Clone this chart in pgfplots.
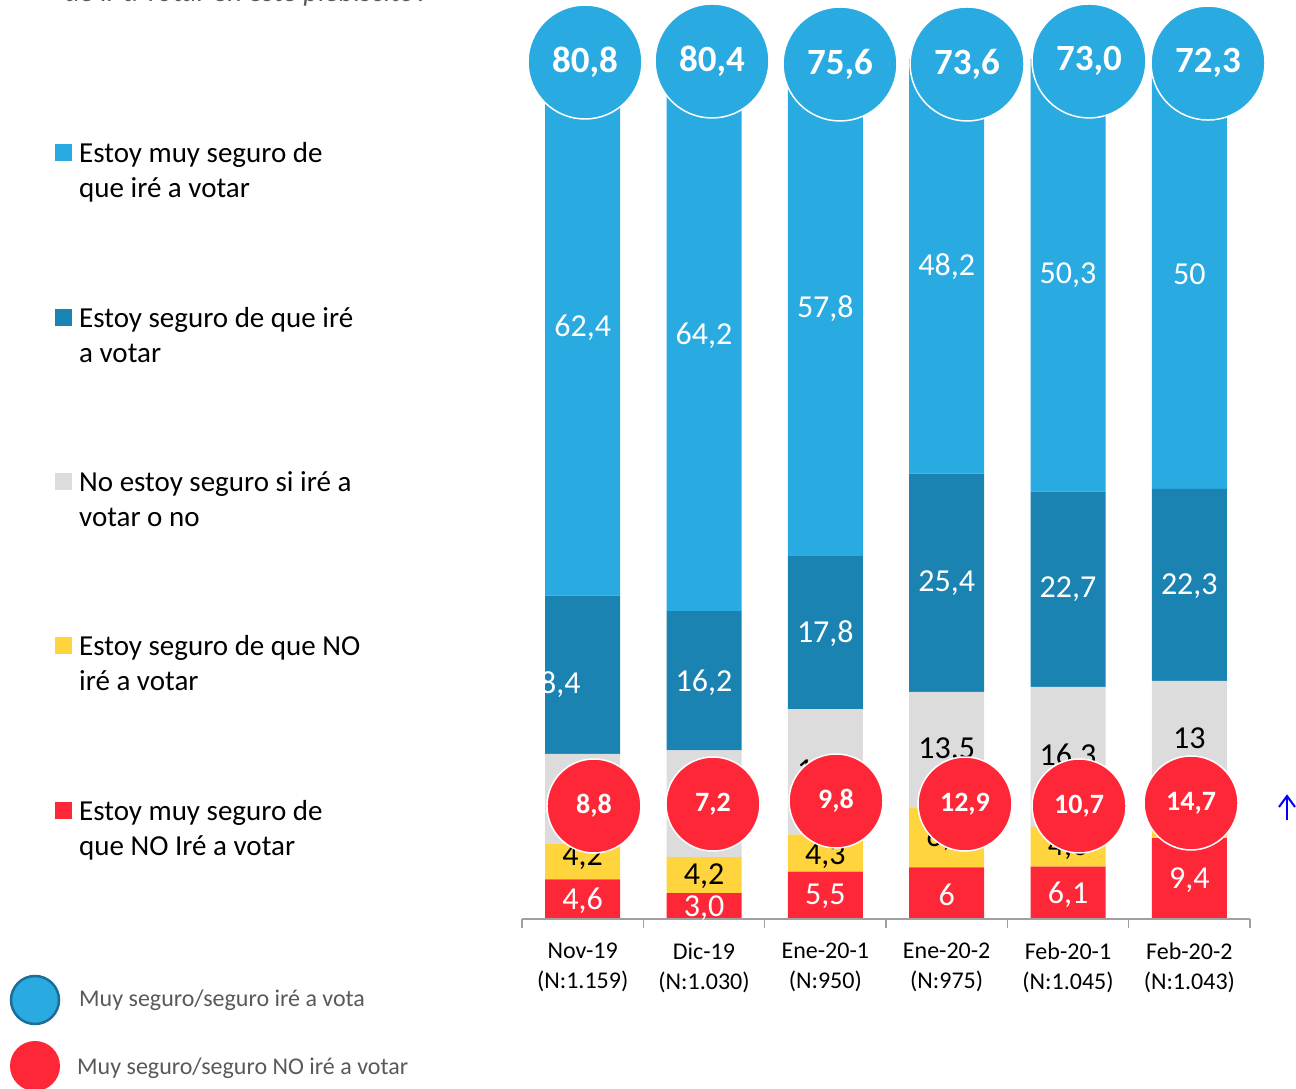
\documentclass[border=0pt]{standalone}
\usepackage{pgfplots}
\pgfplotsset{compat=1.18}
\usepackage{fontspec}
\setmainfont{Carlito}
\definecolor{clight}{HTML}{29ABE2}
\definecolor{cdark}{HTML}{1A83B2}
\definecolor{cgray}{HTML}{DCDCDC}
\definecolor{cyellow}{HTML}{FFD43C}
\definecolor{cred}{HTML}{FE2737}
\definecolor{axisgray}{HTML}{A0A0A0}
\definecolor{textgray}{HTML}{595959}
\definecolor{legblue}{HTML}{1C6E98}
\newcommand{\lblfont}{\fontsize{32}{38}\selectfont}
\newcommand{\legfont}{\fontsize{29}{35}\selectfont}
\begin{document}
\begin{tikzpicture}[x=1pt,y=1pt]
\useasboundingbox (0,0) rectangle (1296,1089);
\clip (0,0) rectangle (1296,1089);
% title (cut off at the top)
\node[anchor=base west, inner sep=0, font=\legfont\itshape, text=textgray] at (65,1087) {de ir a votar en este plebiscito?};
% left legend
\foreach \yc/\la/\lb/\col in {153/Estoy muy seguro de/que iré a votar/clight,
                               318/Estoy seguro de que iré/a votar/cdark,
                               482/No estoy seguro si iré a/votar o no/cgray,
                               646/Estoy seguro de que NO/iré a votar/cyellow,
                               811/Estoy muy seguro de/que NO Iré a votar/cred}{
  \fill[\col] (55,1089-\yc-8.5) rectangle (72,1089-\yc+8.5);
  \node[anchor=base west, inner sep=0, font=\legfont] at (79,1089-\yc-9.5) {\la};
  \node[anchor=base west, inner sep=0, font=\legfont] at (79,1089-\yc-45) {\lb};
}
% bottom legend
\draw[fill=clight, draw=legblue, line width=2.5pt] (35,89) circle (24);
\node[anchor=base west, inner sep=0, font=\fontsize{24}{29}\selectfont, text=textgray] at (79,82) {Muy seguro/seguro iré a vota};
\fill[cred] (35,23) circle (25);
\node[anchor=base west, inner sep=0, font=\fontsize{24}{29}\selectfont, text=textgray] at (77,14) {Muy seguro/seguro NO iré a votar};
% bars
\begin{axis}[at={(522pt,170pt)}, anchor=south west, scale only axis,
  width=728pt, height=860pt, xmin=-0.5, xmax=5.5, ymin=0, ymax=100,
  hide axis, ybar stacked, bar width=75pt, clip=false]
\addplot[fill=cred, draw=none] coordinates {(0,4.6)(1,3.0)(2,5.5)(3,6)(4,6.1)(5,9.4)};
\addplot[fill=cyellow, draw=none] coordinates {(0,4.2)(1,4.2)(2,4.3)(3,6.9)(4,4.6)(5,5.3)};
\addplot[fill=cgray, draw=none] coordinates {(0,10.4)(1,12.4)(2,14.6)(3,13.5)(4,16.3)(5,13)};
\addplot[fill=cdark, draw=none] coordinates {(0,18.4)(1,16.2)(2,17.8)(3,25.4)(4,22.7)(5,22.3)};
\addplot[fill=clight, draw=none] coordinates {(0,62.4)(1,64.2)(2,57.8)(3,48.2)(4,50.3)(5,50)};
\end{axis}
% labels, circles, axis line
\begin{axis}[at={(522pt,170pt)}, anchor=south west, scale only axis,
  width=728pt, height=860pt, xmin=-0.5, xmax=5.5, ymin=0, ymax=100,
  clip=false, axis x line*=bottom, axis y line=none,
  axis line style={draw=axisgray, line width=2pt},
  xtick={0,...,5},
  xticklabels={{Nov-19\\(N:1.159)},{Dic-19\\(N:1.030)},{Ene-20-1\\(N:950)},{Ene-20-2\\(N:975)},{Feb-20-1\\(N:1.045)},{Feb-20-2\\(N:1.043)}},
  xticklabel style={align=center, font=\fontsize{24}{30}\selectfont, text=black, yshift=-20pt},
  major tick length=0pt, major tick style={draw=none},
  minor xtick={-0.5,0.5,...,5.5}, minor tick length=9pt, tick align=outside,
  minor tick style={draw=axisgray, line width=1.5pt},
  ytick=\empty]
% white segment labels
\addplot[only marks, mark=*, mark size=0pt, mark options={draw=none,fill=none},
  nodes near coords, point meta=explicit symbolic, nodes near coords align={center},
  every node near coord/.append style={font=\lblfont, text=white}]
  table[meta=lab, row sep=\\] {x y lab\\
  0 2.1 4,6\\ 1 1.3 3,0\\ 2 2.6 5,5\\ 3 2.8 6\\ 4 2.85 6,1\\ 5 4.5 9,4\\
  -0.25 27.3 18,4\\ 1 27.5 16,2\\ 2 33.2 17,8\\ 3 39.0 25,4\\ 4 38.3 22,7\\ 5 38.7 22,3\\
  0 68.7 62,4\\ 1 67.8 64,2\\ 2 71.0 57,8\\ 3 75.9 48,2\\ 4 74.85 50,3\\ 5 75 50\\
  };
% black segment labels
\addplot[only marks, mark=*, mark size=0pt, mark options={draw=none,fill=none},
  nodes near coords, point meta=explicit symbolic, nodes near coords align={center},
  every node near coord/.append style={font=\lblfont, text=black}]
  table[meta=lab, row sep=\\] {x y lab\\
  0 7.2 4,2\\ 1 5.0 4,2\\ 2 7.3 4,3\\ 3 9.45 6,9\\ 4 8.4 4,6\\ 5 12.05 5,3\\
  0 14.0 10,4\\ 1 13.4 12,4\\ 2 17.1 14,6\\ 3 19.6 13,5\\ 4 18.85 16,3\\ 5 21.0 13\\
  };
% blue circles
\addplot[only marks, mark=*, mark size=57pt, mark options={fill=clight, draw=white, line width=1.5pt},
  nodes near coords, point meta=explicit symbolic, nodes near coords align={center},
  every node near coord/.append style={font=\fontsize{37}{44}\selectfont\bfseries, text=white}]
  table[meta=lab, row sep=\\] {x y lab\\
  0.019 99.65 80,8\\ 1.066 99.77 80,4\\ 2.121 99.42 75,6\\ 3.168 99.42 73,6\\ 4.173 99.77 73,0\\ 5.154 99.53 72,3\\
  };
% red circles
\addplot[only marks, mark=*, mark size=47pt, mark options={fill=cred, draw=white, line width=1.5pt},
  nodes near coords, point meta=explicit symbolic, nodes near coords align={center},
  every node near coord/.append style={font=\fontsize{28}{34}\selectfont\bfseries, text=white}]
  table[meta=lab, row sep=\\] {x y lab\\
  0.093 13.14 8,8\\ 1.074 13.37 7,2\\ 2.088 13.72 9,8\\ 3.151 13.37 12,9\\ 4.091 13.14 10,7\\ 5.014 13.49 14,7\\
  };
\end{axis}
% blue arrow at right
\draw[blue, line width=2pt] (1287,269) -- (1287,293);
\draw[blue, line width=2pt] (1279,282) -- (1287,293) -- (1295,282);
\end{tikzpicture}
\end{document}
